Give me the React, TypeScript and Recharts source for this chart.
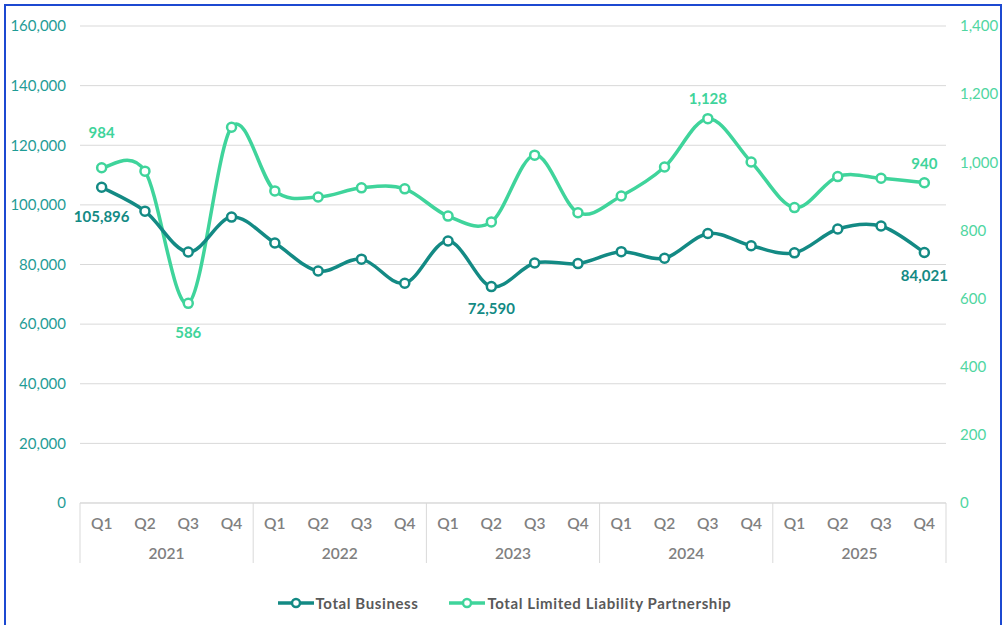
import React from 'react';
import { LineChart, Line, XAxis, YAxis, CartesianGrid } from 'recharts';

const years = ['2021', '2022', '2023', '2024', '2025'];
const quarters = ['Q1', 'Q2', 'Q3', 'Q4'];

const totalBusiness = [
  105896, 97900, 84200, 95900,
  87200, 77800, 81800, 73700,
  87900, 72590, 80500, 80300,
  84300, 82100, 90400, 86300,
  83900, 91900, 92900, 84021,
];

const totalLLP = [
  984, 974, 586, 1103,
  916, 898, 925, 922,
  842, 825, 1021, 852,
  901, 986, 1128, 1001,
  867, 958, 953, 940,
];

const leftTicks = [0, 20000, 40000, 60000, 80000, 100000, 120000, 140000, 160000];
const rightTicks = [0, 200, 400, 600, 800, 1000, 1200, 1400];

// which points carry a data label, and how far above/below the point it sits
const businessLabels: Record<number, number> = { 0: 29, 9: 21, 19: 22 };
const llpLabels: Record<number, number> = { 0: -36, 2: 29, 14: -21, 19: -20 };

const DARK = '#138A84';
const LIGHT = '#3FD49B';
const FONT = 'Lato, "DejaVu Sans", sans-serif';

const CHART_W = 1008;
const PLOT_LEFT = 80;
const PLOT_RIGHT = 946;
const BAND = (PLOT_RIGHT - PLOT_LEFT) / (years.length * quarters.length);

const data = years.flatMap((year, yi) =>
  quarters.map((q, qi) => {
    const i = yi * 4 + qi;
    return { key: `${year}-${q}`, year, q, business: totalBusiness[i], llp: totalLLP[i] };
  })
);

const fmt = (v: number) => v.toLocaleString('en-US');

// Excel-style smoothing (Catmull-Rom as cubic bezier)
function excelSmooth(context: any) {
  let pts: number[][] = [];
  return {
    areaStart() {},
    areaEnd() {},
    lineStart() {
      pts = [];
    },
    lineEnd() {
      const n = pts.length;
      if (!n) return;
      context.moveTo(pts[0][0], pts[0][1]);
      for (let i = 0; i < n - 1; i++) {
        const p0 = pts[Math.max(i - 1, 0)];
        const p1 = pts[i];
        const p2 = pts[i + 1];
        const p3 = pts[Math.min(i + 2, n - 1)];
        context.bezierCurveTo(
          p1[0] + (p2[0] - p0[0]) / 6,
          p1[1] + (p2[1] - p0[1]) / 6,
          p2[0] - (p3[0] - p1[0]) / 6,
          p2[1] - (p3[1] - p1[1]) / 6,
          p2[0],
          p2[1]
        );
      }
    },
    point(x: number, y: number) {
      pts.push([+x, +y]);
    },
  };
}

const makeLabel = (offsets: Record<number, number>, color: string) => (props: any) => {
  const { x, y, index, value } = props;
  if (offsets[index] === undefined) return null;
  return (
    <text
      key={`lbl-${index}`}
      x={x}
      y={y + offsets[index]}
      fill={color}
      textAnchor="middle"
      dominantBaseline="central"
      fontSize={15}
      fontWeight={700}
      fontFamily={FONT}
    >
      {fmt(value)}
    </text>
  );
};

const QuarterTick = (props: any) => {
  const { x, y, payload } = props;
  const idx = data.findIndex((d) => d.key === payload.value);
  if (idx < 0) return null;
  const row = data[idx];
  return (
    <g>
      <text x={x} y={y + 20} textAnchor="middle" dominantBaseline="central" fill="#808080" fontSize={15.5} fontFamily={FONT} fontWeight={600}>
        {row.q}
      </text>
      {row.q === 'Q1' && (
        <line x1={x - BAND / 2} x2={x - BAND / 2} y1={y} y2={y + 60} stroke="#D9D9D9" strokeWidth={1} />
      )}
      {idx === data.length - 1 && (
        <line x1={x + BAND / 2} x2={x + BAND / 2} y1={y} y2={y + 60} stroke="#D9D9D9" strokeWidth={1} />
      )}
      {row.q === 'Q2' && (
        <text x={x + BAND / 2} y={y + 50} textAnchor="middle" dominantBaseline="central" fill="#808080" fontSize={15.5} fontFamily={FONT} fontWeight={600}>
          {row.year}
        </text>
      )}
    </g>
  );
};

const LegendBox = () => {
  const items = [
    { name: 'Total Business', color: DARK },
    { name: 'Total Limited Liability Partnership', color: LIGHT },
  ];
  return (
    <div
      style={{
        position: 'absolute',
        left: 0,
        top: 594,
        width: CHART_W,
        display: 'flex',
        justifyContent: 'center',
        gap: 30,
        fontFamily: FONT,
      }}
    >
      {items.map((it) => (
        <div key={it.name} style={{ display: 'flex', alignItems: 'center' }}>
          <svg width={38} height={14}>
            <line x1={1} x2={37} y1={7} y2={7} stroke={it.color} strokeWidth={3.5} />
            <circle cx={19} cy={7} r={4} fill="#fff" stroke={it.color} strokeWidth={2.5} />
          </svg>
          <span style={{ fontSize: 15, fontWeight: 700, color: '#595959', marginLeft: 1, letterSpacing: 0.6 }}>
            {it.name}
          </span>
        </div>
      ))}
    </div>
  );
};

const App: React.FC = () => {
  return (
    <div style={{ position: 'fixed', left: 0, top: 0, width: 1008, height: 625, background: '#fff', overflow: 'hidden' }}>
      <div
        style={{
          position: 'absolute',
          left: 4,
          top: 4,
          width: 994,
          height: 640,
          border: '2px solid #1C49D1',
          boxSizing: 'content-box',
        }}
      />
      <div style={{ position: 'absolute', left: 0, top: 0 }}>
        <LineChart width={CHART_W} height={625} data={data} margin={{ top: 26, right: 0, bottom: 62, left: 0 }}>
          <CartesianGrid vertical={false} stroke="#D9D9D9" yAxisId="left" />
          <XAxis
            dataKey="key"
            scale="band"
            height={60}
            axisLine={{ stroke: '#D9D9D9' }}
            tickLine={false}
            tickSize={0}
            tickMargin={0}
            interval={0}
            tick={<QuarterTick />}
          />
          <YAxis
            yAxisId="left"
            width={PLOT_LEFT}
            domain={[0, 160000]}
            ticks={leftTicks}
            tickFormatter={fmt}
            axisLine={false}
            tickLine={false}
            tickSize={0}
            tickMargin={14}
            tick={{ fill: '#1F9C96', fontSize: 15, fontFamily: FONT }}
          />
          <YAxis
            yAxisId="right"
            orientation="right"
            width={CHART_W - PLOT_RIGHT}
            domain={[0, 1400]}
            ticks={rightTicks}
            tickFormatter={fmt}
            axisLine={false}
            tickLine={false}
            tickSize={0}
            tickMargin={14}
            tick={{ fill: '#4FD6A1', fontSize: 15, fontFamily: FONT }}
          />
          <Line
            yAxisId="right"
            dataKey="llp"
            name="Total Limited Liability Partnership"
            type={excelSmooth as any}
            stroke={LIGHT}
            strokeWidth={3.5}
            dot={{ r: 4.5, fill: '#fff', stroke: LIGHT, strokeWidth: 2.5 }}
            activeDot={false}
            label={makeLabel(llpLabels, LIGHT)}
            isAnimationActive={false}
          />
          <Line
            yAxisId="left"
            dataKey="business"
            name="Total Business"
            type={excelSmooth as any}
            stroke={DARK}
            strokeWidth={3.5}
            dot={{ r: 4.5, fill: '#fff', stroke: DARK, strokeWidth: 2.5 }}
            activeDot={false}
            label={makeLabel(businessLabels, DARK)}
            isAnimationActive={false}
          />
        </LineChart>
      </div>
      <LegendBox />
    </div>
  );
};

export default App;
